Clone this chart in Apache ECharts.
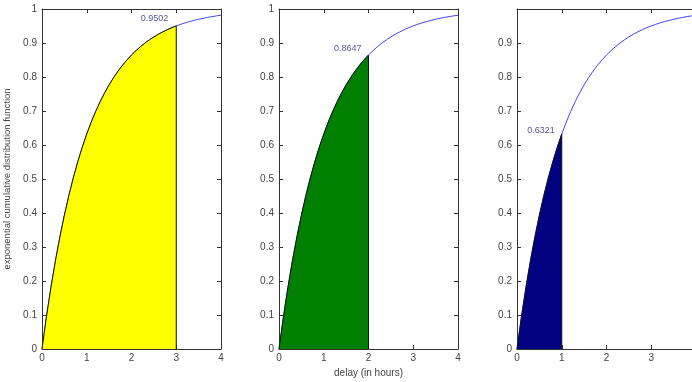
<!DOCTYPE html>
<html>
<head>
<meta charset="utf-8">
<script src="https://cdn.jsdelivr.net/npm/echarts@6.0.0/dist/echarts.min.js"></script>
<style>
  html, body { margin: 0; padding: 0; background: #fff; }
  #chart { width: 692px; height: 382px; }
</style>
</head>
<body>
<div id="chart"></div>
<script>
// delay in hours and the cdf
var delays = [0, 0.1, 0.2, 0.3, 0.4, 0.5, 0.6, 0.7, 0.8, 0.9,
  1.0, 1.1, 1.2, 1.3, 1.4, 1.5, 1.6, 1.7, 1.8, 1.9,
  2.0, 2.1, 2.2, 2.3, 2.4, 2.5, 2.6, 2.7, 2.8, 2.9,
  3.0, 3.1, 3.2, 3.3, 3.4, 3.5, 3.6, 3.7, 3.8, 3.9, 4.0];
var cdf = [0, 0.0952, 0.1813, 0.2592, 0.3297, 0.3935, 0.4512, 0.5034, 0.5507, 0.5934,
  0.6321, 0.6671, 0.6988, 0.7275, 0.7534, 0.7769, 0.7981, 0.8173, 0.8347, 0.8504,
  0.8647, 0.8775, 0.8892, 0.8997, 0.9093, 0.9179, 0.9257, 0.9328, 0.9392, 0.9450,
  0.9502, 0.9550, 0.9592, 0.9631, 0.9666, 0.9698, 0.9727, 0.9753, 0.9776, 0.9798, 0.9817];

// one panel per cutoff
var cutoffs = [3, 2, 1];
var cutoffLabels = ['0.9502', '0.8647', '0.6321'];
var fillColors = ['#ffff00', '#007f00', '#000080'];
var xTicks = [0, 1, 2, 3, 4];
var yTicks = [0, 0.1, 0.2, 0.3, 0.4, 0.5, 0.6, 0.7, 0.8, 0.9, 1];

var gridLefts = [42, 279, 517];
var labelOffsets = [[-3, -7], [-2, -6], [-2, -4]];

var font = 'Liberation Sans, Arial, sans-serif';
var axisColor = '#333';
var textColor = '#444';

var chart = echarts.init(document.getElementById('chart'));

var grids = [], xAxes = [], yAxes = [], series = [];

var curve = delays.map(function (d, i) { return [d, cdf[i]]; });

cutoffs.forEach(function (c, p) {
  grids.push({ left: gridLefts[p], top: 9, width: 179, height: 340, outerBoundsMode: 'none', containLabel: false });

  var baseX = {
    gridIndex: p, type: 'value', min: xTicks[0], max: xTicks[xTicks.length - 1], interval: 1,
    axisLine: { onZero: false, lineStyle: { color: axisColor, width: 1 } },
    axisTick: { inside: true, length: 4, lineStyle: { color: axisColor } },
    splitLine: { show: false }
  };
  xAxes.push(Object.assign({}, baseX, {
    position: 'bottom',
    axisLabel: { color: textColor, fontFamily: font, fontSize: 10, margin: 4 },
    name: p === 1 ? 'delay (in hours)' : '',
    nameLocation: 'middle', nameGap: 18,
    nameTextStyle: { color: textColor, fontFamily: font, fontSize: 10 }
  }));
  xAxes.push(Object.assign({}, baseX, { position: 'top', axisLabel: { show: false } }));

  var baseY = {
    gridIndex: p, type: 'value', min: yTicks[0], max: yTicks[yTicks.length - 1], interval: 0.1,
    axisLine: { onZero: false, lineStyle: { color: axisColor, width: 1 } },
    axisTick: { inside: true, length: 4, lineStyle: { color: axisColor } },
    splitLine: { show: false }
  };
  yAxes.push(Object.assign({}, baseY, {
    position: 'left',
    axisLabel: {
      color: textColor, fontFamily: font, fontSize: 10, margin: 5,
      formatter: function (v) {
        if (p === 2 && v === 1) return '';
        return String(Math.round(v * 10) / 10);
      }
    },
    name: p === 0 ? 'exponential cumulative distribution function' : '',
    nameLocation: 'middle', nameGap: 30,
    nameTextStyle: { color: textColor, fontFamily: font, fontSize: 9.5 }
  }));
  yAxes.push(Object.assign({}, baseY, { position: 'right', axisLabel: { show: false } }));

  var xi = p * 2, yi = p * 2;

  // full curve
  series.push({
    type: 'line', xAxisIndex: xi, yAxisIndex: yi,
    data: curve, showSymbol: false, silent: true,
    lineStyle: { color: '#4444ee', width: 1 }, z: 2
  });

  // shaded area up to the cutoff
  var part = curve.filter(function (pt) { return pt[0] <= c + 1e-9; });
  var last = part[part.length - 1];
  series.push({
    type: 'line', xAxisIndex: xi, yAxisIndex: yi,
    data: part, showSymbol: false, silent: true,
    lineStyle: { color: '#111', width: 1 },
    areaStyle: { color: fillColors[p], opacity: 1 }, z: 3
  });

  // vertical edge at the cutoff
  series.push({
    type: 'line', xAxisIndex: xi, yAxisIndex: yi,
    data: [[c, 0], last], showSymbol: false, silent: true,
    lineStyle: { color: '#111', width: 1 }, z: 4
  });

  // value text at the cutoff
  series.push({
    type: 'scatter', xAxisIndex: xi, yAxisIndex: yi,
    data: [last], symbolSize: 0, silent: true, z: 5,
    label: {
      show: true, position: 'left', formatter: cutoffLabels[p],
      offset: labelOffsets[p],
      color: '#2b2b7a', fontFamily: font, fontSize: 9
    }
  });
});

chart.setOption({
  backgroundColor: '#ffffff',
  animation: false,
  grid: grids,
  xAxis: xAxes,
  yAxis: yAxes,
  series: series
});
</script>
</body>
</html>
